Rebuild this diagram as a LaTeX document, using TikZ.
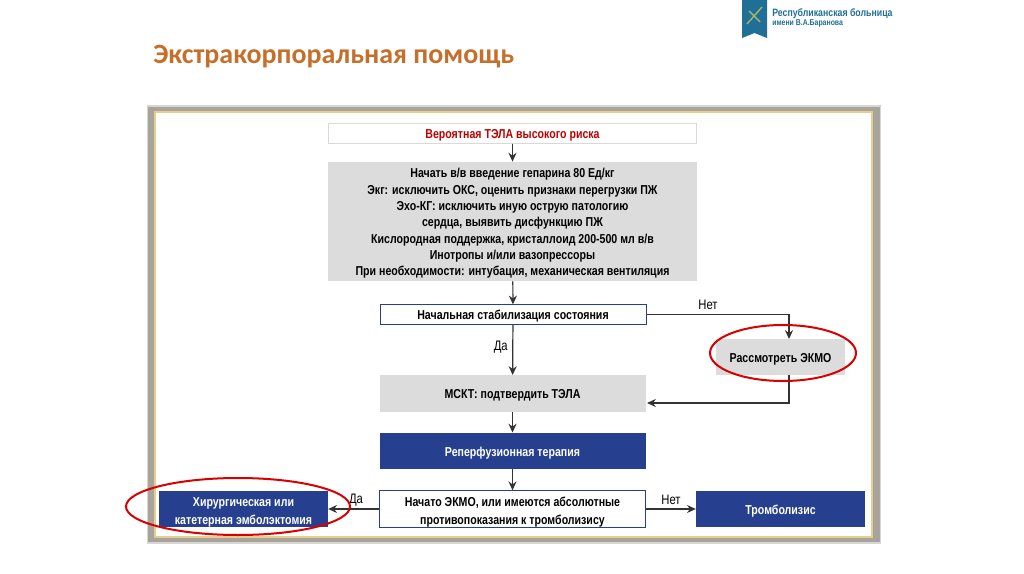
\documentclass[tikz,border=0pt]{standalone}
\usepackage{fontspec}
\setmainfont{Liberation Sans}
\newfontfamily\condfont[FakeStretch=0.82]{Liberation Sans}
\newfontfamily\titlefont{Carlito}
\usetikzlibrary{arrows.meta,positioning}
\newcommand{\upstrut}[1]{\rule{0pt}{#1pt}}
\definecolor{navy}{HTML}{263F8E}
\definecolor{boxgray}{HTML}{DCDCDC}
\definecolor{framegray}{HTML}{A8A49C}
\definecolor{framegold}{HTML}{E6CE8C}
\definecolor{titleorange}{HTML}{C56F2B}
\definecolor{logoblue}{HTML}{1F6F96}
\definecolor{logoleaf}{HTML}{A9B56A}
\tikzset{
    flow diagram/.style = {>={Stealth[length=2.2mm,width=2mm]}, x=0.25mm, y=-0.25mm},
    block/.style     = {font=\condfont\fontsize{9.2}{11.6}\selectfont\bfseries, align=center,
                        inner sep=0pt, minimum width=66.5mm, minimum height=9.1mm},
    greyblock/.style = {block, fill=boxgray},
    navyblock/.style = {block, fill=navy, text=white},
    lineblock/.style = {block, draw=navy, fill=white, line width=0.25mm},
    line/.style      = {draw=black!80, line width=0.3mm},
    sig/.style       = {font=\condfont\fontsize{9.8}{10}\selectfont, inner sep=0pt},
    mark ring/.style = {draw=red!85!black, line width=0.5mm}
}
\begin{document}
\begin{tikzpicture}[flow diagram]
\useasboundingbox (0,0) rectangle (1024,574);

% ================= Header =================
\node[font=\titlefont\fontsize{19.9}{22}\selectfont\bfseries, text=titleorange,
      anchor=west, inner sep=0pt] (Title) at (153,57) {Экстракорпоральная помощь};
\fill[logoblue] (742,0) -- (767,0) -- (767,38) -- (754.5,33) -- (742,38) -- cycle;
\draw[logoleaf, line width=0.35mm] (747,24) -- (762,7) (749,11) -- (760,22);
\node[font=\condfont\fontsize{7.6}{8}\selectfont\bfseries, text=logoblue,
      anchor=west, inner sep=0pt] (Hospital) at (772,14) {Республиканская больница};
\node[font=\condfont\fontsize{6}{6}\selectfont\bfseries, text=logoblue,
      anchor=west, inner sep=0pt] (Named) at (772,23.5) {имени В.А.Баранова};

% ================= Frame =================
\fill[framegray!45] (147,105) rectangle (881,544);
\fill[framegray] (148,107) rectangle (880,542);
\draw[framegold, fill=white, line width=0.3mm] (155,112) rectangle (872,537);

% ================= Main column =================
\node[block, draw=black!15, line width=0.25mm, minimum width=92.2mm, minimum height=4.8mm,
      text=red!75!black] (Risk) at (512.5,133.5) {\upstrut{9.6}Вероятная ТЭЛА высокого риска};
\node[greyblock, minimum width=92.2mm, minimum height=29.8mm] (Start) at (512.5,221.5)
    {\upstrut{9.6}Начать в/в введение гепарина 80 Ед/кг\\
     Экг: исключить ОКС, оценить признаки перегрузки ПЖ\\
     Эхо-КГ: исключить иную острую патологию\\
     сердца, выявить дисфункцию ПЖ\\
     Кислородная поддержка, кристаллоид 200-500 мл в/в\\
     Инотропы и/или вазопрессоры\\
     При необходимости: интубация, механическая вентиляция};
\node[lineblock, minimum height=4.8mm] (Stab) at (513,314.5) {\upstrut{9.6}Начальная стабилизация состояния};
\node[greyblock] (MSCT) at (512.5,393.5) {\upstrut{9.6}МСКТ: подтвердить ТЭЛА};
\node[navyblock] (Reperf) at (512.5,451) {\upstrut{9.6}Реперфузионная терапия};
\node[lineblock] (Ecmo) at (512.5,509)
    {\upstrut{11}Начато ЭКМО, или имеются абсолютные\\[1.2pt]противопоказания к тромболизису};

% ================= Side branches =================
\node[greyblock, minimum width=32.2mm] (Consider) at (780.5,357) {\upstrut{9.6}Рассмотреть ЭКМО};
\node[navyblock, minimum width=42.2mm] (Surgery) at (243.5,509)
    {\upstrut{11}Хирургическая или\\[1.2pt]катетерная эмболэктомия};
\node[navyblock, minimum width=42.2mm] (Lysis) at (780.5,509) {\upstrut{9.6}Тромболизис};

\coordinate (ConsiderIn) at (789,339);
\coordinate (ConsiderOut) at (789,375);
\coordinate (MSCTIn) at (647,403);

% ================= Wiring =================
\draw[->, line] (Risk) -- (Start);
\draw[->, line] (Start) -- (Stab);
\draw[->, line] (Stab) -- node[sig, pos=0.45, xshift=-3mm] (Yes1) {Да} (MSCT);
\draw[->, line] (MSCT) -- (Reperf);
\draw[->, line] (Reperf) -- (Ecmo);
\draw[->, line] (Stab.east) -| (ConsiderIn);
\draw[->, line] (ConsiderOut) |- (MSCTIn);
\draw[->, line] (Ecmo) -- (Surgery);
\draw[->, line] (Ecmo) -- (Lysis);

\node[sig] (No1) at (708,305) {Нет};
\node[sig] (Yes2) at (356,500) {Да};
\node[sig] (No2) at (671,500) {Нет};

% ================= Red rings =================
\draw[mark ring] (783,353) ellipse [x radius=73, y radius=28];
\draw[mark ring] (238,506.5) ellipse [x radius=112, y radius=28.5];

\end{tikzpicture}
\end{document}
